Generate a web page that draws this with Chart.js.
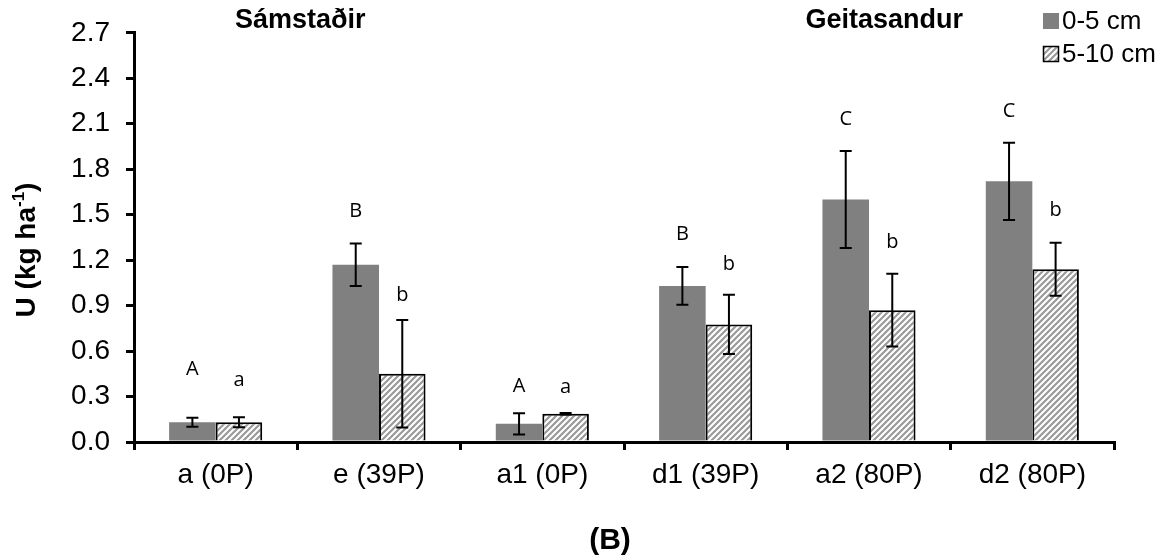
<!DOCTYPE html>
<html><head><meta charset="utf-8">
<script src="https://cdn.jsdelivr.net/npm/chart.js@4.4.1/dist/chart.umd.min.js"></script>
<style>html,body{margin:0;padding:0;background:#fff;}#wrap{width:1167px;height:560px;position:relative;}</style>
</head><body><div id="wrap"><canvas id="c" width="1167" height="560"></canvas></div>
<script>
const categories = ['a (0P)', 'e (39P)', 'a1 (0P)', 'd1 (39P)', 'a2 (80P)', 'd2 (80P)'];
const seriesNames = ['0-5 cm', '5-10 cm'];
const shallow = [0.13, 1.17, 0.12, 1.03, 1.60, 1.72];
const shallowErr = [0.03, 0.14, 0.07, 0.125, 0.32, 0.255];
const deep = [0.13, 0.45, 0.187, 0.776, 0.87, 1.14];
const deepErr = [0.033, 0.355, 0.005, 0.195, 0.24, 0.175];
const shallowLetters = ['A', 'B', 'A', 'B', 'C', 'C'];
const deepLetters = ['a', 'b', 'a', 'b', 'b', 'b'];
const shallowLetterAt = [0.48, 1.52, 0.37, 1.37, 2.13, 2.18];
const deepLetterAt = [0.41, 0.97, 0.36, 1.17, 1.32, 1.53];
const yTicks = [0, 0.3, 0.6, 0.9, 1.2, 1.5, 1.8, 2.1, 2.4, 2.7];
const groupTitles = ['Sámstaðir', 'Geitasandur'];
const panelLabel = '(B)';

const FONT = '"Liberation Sans", Arial, sans-serif';
const ctx0 = document.getElementById('c').getContext('2d');
function makeHatch() {
  const s = 6, c = document.createElement('canvas');
  c.width = s; c.height = s;
  const x = c.getContext('2d');
  x.fillStyle = '#fff'; x.fillRect(0, 0, s, s);
  x.strokeStyle = '#9a9a9a'; x.lineWidth = 2.2;
  x.beginPath();
  x.moveTo(0, s); x.lineTo(s, 0);
  x.moveTo(-s / 2, s / 2); x.lineTo(s / 2, -s / 2);
  x.moveTo(s / 2, s * 1.5); x.lineTo(s * 1.5, s / 2);
  x.stroke();
  return ctx0.createPattern(c, 'repeat');
}
const hatch = makeHatch();

const extras = {
  id: 'extras',
  afterDatasetsDraw(chart) {
    const ctx = chart.ctx, y = chart.scales.y;
    const errs = [shallowErr, deepErr];
    const vals = [shallow, deep];
    const lets = [shallowLetters, deepLetters];
    const letAt = [shallowLetterAt, deepLetterAt];
    ctx.save();
    for (let d = 0; d < 2; d++) {
      const meta = chart.getDatasetMeta(d);
      meta.data.forEach((el, j) => {
        const x = el.x;
        const top = y.getPixelForValue(vals[d][j] + errs[d][j]);
        const bot = y.getPixelForValue(vals[d][j] - errs[d][j]);
        ctx.strokeStyle = '#000'; ctx.lineWidth = 2;
        ctx.beginPath();
        ctx.moveTo(x, top); ctx.lineTo(x, bot);
        ctx.moveTo(x - 6, top); ctx.lineTo(x + 6, top);
        ctx.moveTo(x - 6, bot); ctx.lineTo(x + 6, bot);
        ctx.stroke();
        ctx.fillStyle = '#000';
        ctx.font = '20px "Open Sans", sans-serif';
        ctx.textAlign = 'center'; ctx.textBaseline = 'middle';
        ctx.fillText(lets[d][j], x, y.getPixelForValue(letAt[d][j]));
      });
    }
    // group titles
    ctx.fillStyle = '#000';
    ctx.font = 'bold 27px ' + FONT;
    ctx.textBaseline = 'alphabetic';
    ctx.textAlign = 'left';
    ctx.fillText(groupTitles[0], 235, 28);
    ctx.textAlign = 'right';
    ctx.fillText(groupTitles[1], 963, 28);
    // legend
    ctx.fillStyle = '#808080';
    ctx.fillRect(1043, 13, 16, 16);
    ctx.fillStyle = hatch;
    ctx.fillRect(1043, 46, 16, 16);
    ctx.strokeStyle = '#000'; ctx.lineWidth = 1.5;
    ctx.strokeRect(1043.5, 46.5, 15, 15);
    ctx.fillStyle = '#000';
    ctx.font = '26px ' + FONT;
    ctx.textAlign = 'left'; ctx.textBaseline = 'middle';
    ctx.fillText(seriesNames[0], 1062, 22);
    ctx.fillText(seriesNames[1], 1062, 55);
    // panel label
    ctx.font = 'bold 30px ' + FONT;
    ctx.textAlign = 'center';
    ctx.fillText(panelLabel, 610, 541);
    // y title
    ctx.translate(35, 250);
    ctx.rotate(-Math.PI / 2);
    ctx.textBaseline = 'alphabetic';
    ctx.textAlign = 'left';
    const big = 'bold 28px ' + FONT, small = 'bold 17px ' + FONT;
    ctx.font = big; const w1 = ctx.measureText('U (kg ha').width;
    const w3 = ctx.measureText(')').width;
    ctx.font = small; const w2 = ctx.measureText('-1').width;
    let sx = -(w1 + w2 + w3) / 2;
    ctx.font = big; ctx.fillText('U (kg ha', sx, 0); sx += w1;
    ctx.font = small; ctx.fillText('-1', sx, -11); sx += w2;
    ctx.font = big; ctx.fillText(')', sx, 0);
    ctx.restore();
  }
};

new Chart(ctx0, {
  type: 'bar',
  data: {
    labels: categories,
    datasets: [
      { label: seriesNames[0], data: shallow, backgroundColor: '#808080', borderWidth: 0 },
      { label: seriesNames[1], data: deep, backgroundColor: hatch, borderColor: '#000', borderWidth: 2 }
    ]
  },
  options: {
    responsive: false, devicePixelRatio: 1, animation: false,
    categoryPercentage: 0.57, barPercentage: 1.0,
    layout: { padding: { top: 24, right: 53, bottom: 0, left: 0 } },
    plugins: { legend: { display: false }, tooltip: { enabled: false } },
    scales: {
      x: {
        grid: { display: true, offset: true, drawOnChartArea: false, drawTicks: true, tickLength: 8, color: '#000', lineWidth: 3 },
        border: { display: true, color: '#000', width: 3 },
        ticks: { color: '#000', font: { family: FONT, size: 28 }, padding: 8, maxRotation: 0, autoSkip: false },
        afterFit(s) { s.height = 118; }
      },
      y: {
        min: 0, max: 2.7,
        afterBuildTicks(s) { s.ticks = yTicks.map(v => ({ value: v })); },
        grid: { display: true, drawOnChartArea: false, drawTicks: true, tickLength: 8, color: '#000', lineWidth: 3 },
        border: { display: true, color: '#000', width: 3 },
        ticks: { color: '#000', font: { family: FONT, size: 28 }, padding: 16, callback: v => Number(v).toFixed(1) },
        afterFit(s) { s.width = 134; }
      }
    }
  },
  plugins: [extras]
});
</script></body></html>
